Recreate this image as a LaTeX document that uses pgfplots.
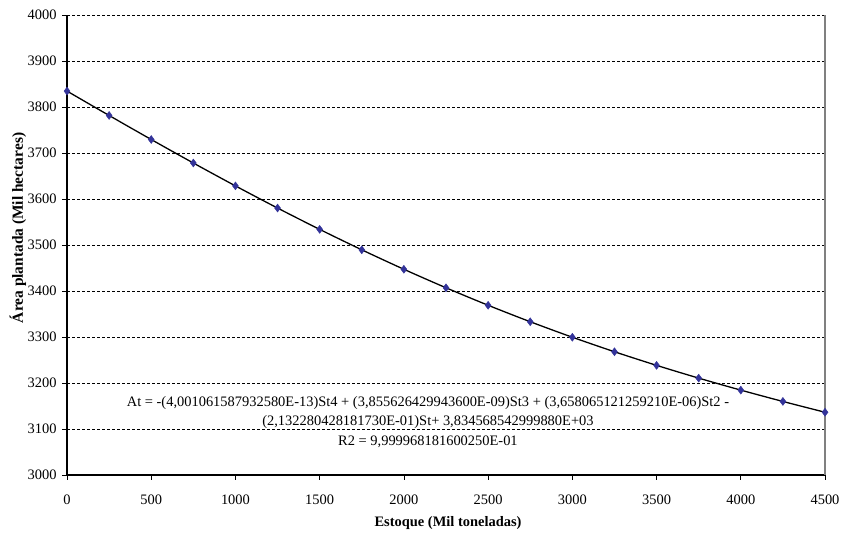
\documentclass[border=0pt]{standalone}
\usepackage{fontspec}
\setmainfont{Liberation Serif}
\usepackage{pgfplots}
\pgfplotsset{compat=1.18}
\definecolor{mk}{RGB}{51,51,153}
\pgfplotstableread{
x y
0 3834.57
250 3781.55
500 3729.33
750 3678.21
1000 3628.45
1250 3580.30
1500 3533.94
1750 3489.53
2000 3447.19
2250 3406.99
2500 3368.98
2750 3333.16
3000 3299.50
3250 3267.94
3500 3238.35
3750 3210.60
4000 3184.52
4250 3159.87
4500 3136.39
}\datatab
\begin{document}
\begin{tikzpicture}[x=1bp,y=1bp]
\useasboundingbox (0,0) rectangle (844,540);
\begin{axis}[
  at={(67bp,65bp)}, anchor=south west,
  scale only axis, width=758bp, height=460bp,
  xmin=0, xmax=4500, ymin=3000, ymax=4000,
  xtick={0,500,...,4500}, ytick={3000,3100,...,4000},
  axis x line*=bottom, axis y line*=left,
  axis line style={black, line width=1.4bp, -},
  tick align=outside, major tick length=5bp,
  tick style={black, line width=0.6bp},
  ymajorgrids, grid style={black, line width=0.6bp, dash pattern=on 3bp off 2bp},
  /pgf/number format/assume math mode=true,
  /pgf/number format/1000 sep={},
  scaled ticks=false,
  ticklabel style={font=\fontsize{14.5}{16}\selectfont},
  xticklabel style={yshift=-11bp},
  yticklabel style={xshift=-2bp},
  clip=false,
]
\draw[gray, line width=1.4bp] (rel axis cs:1,0) -- (rel axis cs:1,1);
\addplot[only marks, mark=diamond*, mark size=4bp, mk, mark options={fill=mk, draw=mk}] table[x=x,y=y] {\datatab};
\addplot[black, line width=1.3bp, smooth, no marks] table[x=x,y=y] {\datatab};
\node[align=center, font=\fontsize{14.5}{19.5}\selectfont] at (axis cs:2143,3115) {At = -(4,001061587932580E-13)St4 + (3,855626429943600E-09)St3 + (3,658065121259210E-06)St2 -\\(2,132280428181730E-01)St+ 3,834568542999880E+03\\R2 = 9,999968181600250E-01};
\end{axis}
\node[font=\bfseries\fontsize{14.5}{16}\selectfont] at (448,17) {Estoque (Mil toneladas)};
\node[font=\bfseries\fontsize{15.5}{17}\selectfont, rotate=90] at (18,312) {Área plantada (Mil hectares)};
\end{tikzpicture}
\end{document}
